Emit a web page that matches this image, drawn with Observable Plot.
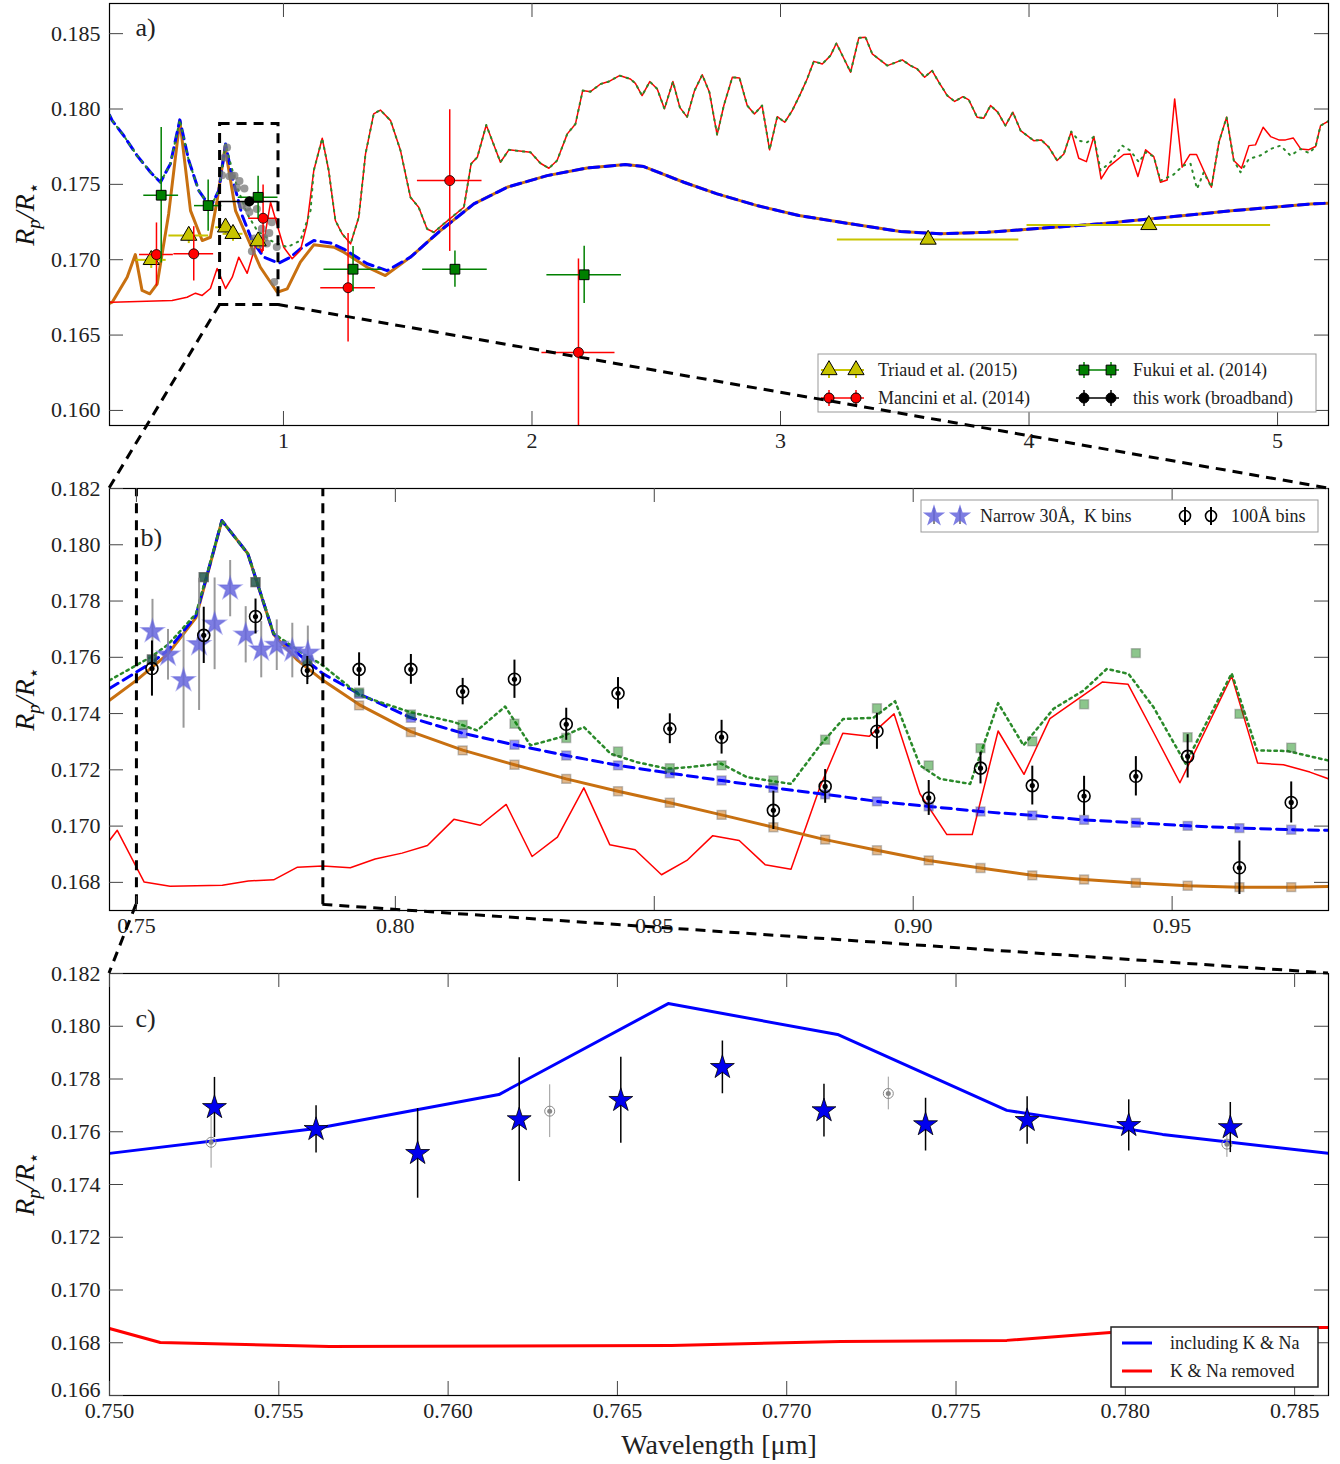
<!DOCTYPE html>
<html><head><meta charset="utf-8">
<script src="https://cdn.jsdelivr.net/npm/d3@7"></script>
<script src="https://cdn.jsdelivr.net/npm/@observablehq/plot@0.6"></script>
<style>
body{margin:0;background:#fff;}
#wrap{position:relative;width:1340px;height:1464px;}
#wrap svg{display:block;}
</style></head><body><div id="wrap"></div>
<script>
// ---------------- Panel a: models (wavelength µm, Rp/R*) ----------------
const redA = [[0.30,0.1672],[0.311,0.16718],[0.552,0.16729],[0.612,0.16751],[0.646,0.16778],[0.673,0.16763],[0.706,0.16809],[0.733,0.16942],[0.767,0.16809],[0.794,0.16884],[0.82,0.17017],[0.854,0.1691],[0.894,0.17127],[0.914,0.1705],[0.948,0.17381],[1.001,0.17083],[1.035,0.17006],[1.068,0.17061],[1.095,0.17238],[1.122,0.17592],[1.156,0.17806],[1.182,0.17592],[1.209,0.1726],[1.236,0.17172],[1.27,0.17105],[1.303,0.17282],[1.33,0.177],[1.363,0.17967],[1.39,0.17993],[1.431,0.17923],[1.471,0.17724],[1.511,0.17414],[1.544,0.17348],[1.578,0.17204],[1.605,0.17182],[1.645,0.17238],[1.726,0.17348],[1.755,0.17636],[1.78,0.1768],[1.816,0.17894],[1.873,0.17647],[1.907,0.17729],[1.994,0.17713],[2.034,0.1764],[2.068,0.17607],[2.101,0.17658],[2.142,0.17835],[2.175,0.17901],[2.204,0.18122],[2.235,0.18115],[2.276,0.18166],[2.309,0.18182],[2.352,0.18222],[2.396,0.18199],[2.416,0.1817],[2.443,0.18089],[2.474,0.18182],[2.504,0.18133],[2.533,0.18001],[2.567,0.18182],[2.595,0.18011],[2.624,0.17946],[2.654,0.18122],[2.685,0.18227],[2.714,0.18111],[2.745,0.17829],[2.772,0.18023],[2.806,0.1821],[2.835,0.18206],[2.866,0.18023],[2.895,0.17967],[2.926,0.18023],[2.956,0.17729],[2.987,0.17949],[3.017,0.17912],[3.047,0.17989],[3.08,0.181],[3.107,0.18199],[3.134,0.18316],[3.168,0.18299],[3.201,0.18354],[3.225,0.18436],[3.282,0.18244],[3.315,0.18472],[3.342,0.18476],[3.369,0.18366],[3.43,0.18288],[3.49,0.18326],[3.523,0.18288],[3.55,0.18266],[3.58,0.18211],[3.61,0.18255],[3.637,0.18178],[3.671,0.18089],[3.701,0.1805],[3.734,0.18082],[3.758,0.1806],[3.791,0.17946],[3.818,0.17939],[3.845,0.18023],[3.874,0.17979],[3.905,0.1789],[3.935,0.17979],[3.966,0.17857],[4.019,0.1779],[4.049,0.17795],[4.08,0.17746],[4.113,0.17658],[4.14,0.17702],[4.17,0.1785],[4.2,0.17673],[4.231,0.17651],[4.261,0.17817],[4.29,0.17536],[4.321,0.17618],[4.381,0.17698],[4.408,0.17702],[4.438,0.17552],[4.469,0.17729],[4.502,0.17684],[4.529,0.17514],[4.556,0.17529],[4.586,0.18067],[4.616,0.17614],[4.647,0.17698],[4.674,0.17698],[4.703,0.17592],[4.734,0.17481],[4.764,0.17779],[4.795,0.17946],[4.824,0.17658],[4.855,0.17607],[4.885,0.17757],[4.911,0.17762],[4.942,0.17879],[4.972,0.17817],[5.005,0.17795],[5.032,0.17795],[5.063,0.17808],[5.093,0.17735],[5.124,0.17729],[5.153,0.17751],[5.173,0.1789],[5.205,0.1792]];
const orangeA = [[0.30,0.1671],[0.311,0.16718],[0.371,0.16884],[0.404,0.17034],[0.431,0.16796],[0.462,0.16774],[0.492,0.1684],[0.538,0.17304],[0.583,0.17923],[0.626,0.17326],[0.673,0.17127],[0.706,0.17149],[0.733,0.17393],[0.765,0.17746],[0.807,0.17326],[0.854,0.17149],[0.907,0.1695],[0.975,0.16784],[1.015,0.16807],[1.068,0.16984],[1.122,0.17099],[1.203,0.17083],[1.243,0.1705],[1.337,0.1695],[1.41,0.16895],[1.511,0.17017],[1.632,0.17194],[1.766,0.1737],[1.9,0.17481],[2.061,0.17558],[2.222,0.17609],[2.376,0.17631],[2.45,0.17618],[2.611,0.17514],[2.745,0.17437],[2.906,0.17359],[3.074,0.17293],[3.282,0.17238],[3.483,0.17187],[3.644,0.17172],[3.832,0.17182],[4.019,0.17205],[4.288,0.17238],[4.556,0.17282],[4.824,0.17326],[5.133,0.1737],[5.205,0.17375]];
const blueAShort = [[0.30,0.1796],[0.311,0.17923],[0.357,0.17824],[0.411,0.17691],[0.465,0.1758],[0.505,0.17514],[0.545,0.17636],[0.583,0.17928],[0.619,0.17658],[0.659,0.17459],[0.706,0.17348],[0.74,0.17459],[0.767,0.17768],[0.794,0.17547],[0.834,0.17293],[0.874,0.17127],[0.921,0.17017],[0.981,0.16977],[1.028,0.17017],[1.068,0.17072],[1.122,0.17127],[1.189,0.17111],[1.243,0.17071],[1.337,0.16973],[1.417,0.16928],[1.511,0.17017]];
const greenAMid = [[0.79,0.1762],[0.814,0.17481],[0.854,0.17304],[0.894,0.17194],[0.948,0.17127],[1.015,0.17083],[1.068,0.17127],[1.109,0.17326]];
const greenALong = [[4.2,0.1779],[4.234,0.17779],[4.261,0.17817],[4.288,0.17592],[4.328,0.17647],[4.375,0.17757],[4.408,0.17724],[4.442,0.17647],[4.469,0.17713],[4.502,0.17684],[4.529,0.17525],[4.582,0.17565],[4.62,0.17625],[4.65,0.17636],[4.676,0.1747],[4.703,0.1758],[4.734,0.17481],[4.764,0.17779],[4.795,0.17946],[4.824,0.17658],[4.851,0.1758],[4.885,0.17669],[4.93,0.17691],[4.972,0.17735],[5.012,0.17757],[5.052,0.17691],[5.093,0.17735],[5.127,0.17707],[5.153,0.17751],[5.173,0.1789],[5.205,0.1792]];

// ---------------- Panel a: observations ----------------
const triaudWl = [0.468,0.619,0.767,0.797,0.898,3.594,4.482];
const triaudRp = [0.16999,0.1716,0.17215,0.17172,0.17123,0.17134,0.17231];
const triaudXe = [0.06,0.08,0.04,0.04,0.03,0.365,0.49];
const triaudYe = [0.00057,0.00053,0.0005,0.0005,0.0005,0.0002,0.0002];
const manciniWl = [0.489,0.639,0.918,1.26,1.669,2.187];
const manciniRp = [0.17034,0.17039,0.17275,0.16814,0.17525,0.16385];
const manciniXe = [0.068,0.08,0.058,0.11,0.13,0.147];
const manciniYe = [0.0021,0.0018,0.0022,0.0036,0.0047,0.0062];
const fukuiWl = [0.508,0.697,0.898,1.28,1.69,2.21];
const fukuiRp = [0.17428,0.17359,0.17414,0.16937,0.16937,0.169];
const fukuiXe = [0.07,0.055,0.08,0.117,0.13,0.15];
const fukuiYe = [0.0045,0.0017,0.0014,0.0015,0.0012,0.0019];
const broadWl = [0.8625];
const broadRp = [0.17386];
const broadXe = [0.1175];
const broadYe = [0.0003];

// ---------------- Panels b & c: 100 Å bins, 30 Å K bins, binned models ----------------
const binWl = [0.753,0.763,0.773,0.783,0.793,0.803,0.813,0.823,0.833,0.843,0.853,0.863,0.873,0.883,0.893,0.903,0.913,0.923,0.933,0.943,0.953,0.963,0.973];
const binRp = [0.1756,0.17678,0.17745,0.17553,0.17557,0.17557,0.17478,0.17522,0.17362,0.17472,0.17346,0.17316,0.17056,0.17141,0.17337,0.171,0.17206,0.17144,0.17107,0.17177,0.17248,0.16852,0.17084];
const binErr = [0.00098,0.001,0.00062,0.0005,0.00059,0.00053,0.00047,0.00068,0.00057,0.00056,0.00053,0.0006,0.00068,0.0006,0.00064,0.00062,0.00056,0.00069,0.0007,0.0007,0.00077,0.00095,0.00073];
const starWl = [0.7531,0.7561,0.7591,0.7621,0.7651,0.7681,0.7711,0.7741,0.7771,0.7801,0.7831];
const starRp = [0.17692,0.17609,0.17518,0.17646,0.17719,0.17844,0.1768,0.17627,0.17643,0.17624,0.17616];
const starErr = [0.00114,0.0009,0.0017,0.00235,0.00163,0.001,0.001,0.001,0.0009,0.00097,0.00095];
const binGreen = [0.17592,0.17885,0.17867,0.17589,0.17475,0.17397,0.1736,0.17364,0.17313,0.17265,0.17206,0.17216,0.17162,0.17307,0.17419,0.17216,0.17277,0.17301,0.17433,0.17615,0.17316,0.17399,0.17279];
const binBlue = [0.17592,0.17885,0.17867,0.17589,0.1747,0.17385,0.1733,0.17289,0.17251,0.17216,0.17188,0.17162,0.17136,0.17113,0.17088,0.1707,0.17052,0.17038,0.17022,0.17012,0.17001,0.16993,0.16987];
const binOrange = [0.17592,0.17885,0.17867,0.17589,0.17429,0.17334,0.17269,0.17218,0.17168,0.17124,0.17083,0.1704,0.16996,0.16952,0.16914,0.16878,0.16851,0.16825,0.1681,0.16798,0.16788,0.16783,0.16783];

// ---------------- Panels b & c: models ----------------
const redB = [[0.7448,0.16949],[0.7463,0.16985],[0.7515,0.16801],[0.7565,0.16786],[0.7666,0.1679],[0.7716,0.16805],[0.7765,0.16809],[0.7811,0.16854],[0.786,0.16858],[0.7913,0.16852],[0.7961,0.16883],[0.8013,0.16904],[0.8062,0.16931],[0.8113,0.17024],[0.8164,0.17003],[0.8214,0.17077],[0.8264,0.16892],[0.8313,0.16961],[0.8364,0.17136],[0.8414,0.16934],[0.8463,0.16916],[0.8514,0.16827],[0.8563,0.16878],[0.8613,0.16966],[0.8664,0.16949],[0.8714,0.16863],[0.8764,0.16847],[0.882,0.17139],[0.8864,0.1733],[0.8915,0.17319],[0.8963,0.17399],[0.9013,0.17115],[0.9065,0.1697],[0.9114,0.1697],[0.9164,0.17338],[0.9214,0.17184],[0.9264,0.17382],[0.9365,0.17512],[0.9415,0.17504],[0.9465,0.1733],[0.9515,0.17154],[0.9615,0.17533],[0.9665,0.17224],[0.9715,0.17218],[0.9766,0.17192],[0.9802,0.17168]];
const greenB = [[0.7448,0.17518],[0.7527,0.176],[0.7561,0.17645],[0.7615,0.17755],[0.7665,0.18086],[0.7715,0.17969],[0.7765,0.17685],[0.7828,0.17605],[0.7855,0.17578],[0.7932,0.17464],[0.8029,0.17405],[0.8113,0.1737],[0.8158,0.1734],[0.8212,0.17425],[0.8261,0.17287],[0.8319,0.17316],[0.8364,0.17352],[0.8416,0.17257],[0.8467,0.17227],[0.8525,0.17204],[0.857,0.1721],[0.8629,0.17222],[0.8679,0.17174],[0.8764,0.1715],[0.882,0.17287],[0.8865,0.17381],[0.8923,0.17385],[0.8965,0.17444],[0.9013,0.17216],[0.9052,0.17168],[0.911,0.1715],[0.9164,0.17437],[0.9213,0.17287],[0.9271,0.17417],[0.9329,0.17482],[0.9374,0.17559],[0.9416,0.17541],[0.9464,0.17423],[0.9526,0.17222],[0.9615,0.17543],[0.9664,0.17269],[0.9722,0.17267],[0.9802,0.17233]];
const blueB = [[0.7448,0.17489],[0.7527,0.17578],[0.7561,0.17625],[0.7615,0.17748],[0.7665,0.18086],[0.7715,0.17969],[0.7765,0.17683],[0.7828,0.17589],[0.786,0.17542],[0.793,0.1747],[0.803,0.17385],[0.813,0.1733],[0.823,0.17289],[0.833,0.17251],[0.843,0.17216],[0.853,0.17188],[0.863,0.17162],[0.873,0.17136],[0.883,0.17113],[0.893,0.17088],[0.903,0.1707],[0.913,0.17052],[0.923,0.17038],[0.933,0.17022],[0.943,0.17012],[0.953,0.17001],[0.963,0.16993],[0.973,0.16987],[0.9802,0.16985]];
const orangeB = [[0.7448,0.17447],[0.750,0.17518],[0.7561,0.17612],[0.7615,0.17741],[0.7665,0.18086],[0.7715,0.17969],[0.7765,0.17681],[0.7811,0.1759],[0.786,0.17518],[0.793,0.17432],[0.803,0.17336],[0.813,0.1727],[0.823,0.17218],[0.833,0.17168],[0.843,0.17124],[0.853,0.17083],[0.863,0.1704],[0.873,0.16996],[0.883,0.16952],[0.893,0.16914],[0.903,0.16878],[0.913,0.16851],[0.923,0.16825],[0.933,0.1681],[0.943,0.16798],[0.953,0.16788],[0.963,0.16783],[0.973,0.16783],[0.9802,0.16785]];

// ---------------- ticks & zoom windows ----------------
const xTicksA = [1,2,3,4,5];
const yTicksA = [0.160,0.165,0.170,0.175,0.180,0.185];
const xTicksB = [0.75,0.80,0.85,0.90,0.95];
const yTicksB = [0.168,0.170,0.172,0.174,0.176,0.178,0.180,0.182];
const xTicksC = [0.750,0.755,0.760,0.765,0.770,0.775,0.780,0.785];
const yTicksC = [0.166,0.168,0.170,0.172,0.174,0.176,0.178,0.180,0.182];
const zoomA = {x1: 0.745, x2: 0.98, y1: 0.167, y2: 0.179};
const zoomB = {x1: 0.750, x2: 0.786, y1: 0.1672, y2: 0.182};

// ---------------- helpers ----------------
const FONT = '"Liberation Serif", "DejaVu Serif", serif';
const ORANGE = "#c87010", TRI = "#c8c400";
const zip = (wl, rp, xe, ye) => wl.map((w, i) => ({wl: w, rp: rp[i], xe: xe ? xe[i] : 0, ye: ye ? ye[i] : 0}));
const FH = 422, FW = 1219;
function frameTicks(xt, yt) {
  const s = "#444", L = 14;
  return [
    Plot.tickX(xt, {x: d => d, stroke: s, insetTop: FH - L}),
    Plot.tickX(xt, {x: d => d, stroke: s, insetBottom: FH - L}),
    Plot.tickY(yt, {y: d => d, stroke: s, insetRight: FW - L}),
    Plot.tickY(yt, {y: d => d, stroke: s, insetLeft: FW - L})
  ];
}
const line = (a, o) => Plot.line(a, {x: d => d[0], y: d => d[1], clip: true, ...o});
const errX = (d, c, w) => Plot.ruleY(d, {y: "rp", x1: e => e.wl - e.xe, x2: e => e.wl + e.xe, stroke: c, strokeWidth: w, clip: true});
const errY = (d, c, w, o = {}) => Plot.ruleX(d, {x: "wl", y1: e => e.rp - e.ye, y2: e => e.rp + e.ye, stroke: c, strokeWidth: w, clip: true, ...o});
const axes = (xt, yt, fx, fy) => [
  Plot.axisX({ticks: xt, tickSize: 0, tickPadding: 7, tickFormat: fx, label: null, fontSize: 22, fill: "#222"}),
  Plot.axisY({ticks: yt, tickSize: 0, tickPadding: 9, tickFormat: fy, label: null, fontSize: 22, fill: "#222"})
];
const style = {fontFamily: FONT, fontSize: "22px", background: "white", color: "#222"};

// derived tables
const blueA = [...blueAShort, ...orangeA.filter(d => d[0] >= 1.6)];
const greenA = [...blueAShort.filter(d => d[0] <= 0.767), ...greenAMid, ...redA.filter(d => d[0] >= 1.12 && d[0] <= 4.17), ...greenALong];
const triaud = zip(triaudWl, triaudRp, triaudXe, triaudYe);
const mancini = zip(manciniWl, manciniRp, manciniXe, manciniYe);
const fukui = zip(fukuiWl, fukuiRp, fukuiXe, fukuiYe);
const broad = zip(broadWl, broadRp, broadXe, broadYe);
const bins = zip(binWl, binRp, null, binErr);
const stars = zip(starWl, starRp, null, starErr);
const mGreen = zip(binWl, binGreen), mBlue = zip(binWl, binBlue), mOrange = zip(binWl, binOrange);

// ---------------- Panel a ----------------
const plotA = Plot.plot({
  width: 1340, height: 465, marginTop: 3, marginBottom: 40, marginLeft: 109, marginRight: 12,
  x: {domain: [0.3, 5.205]}, y: {domain: [0.159, 0.187]}, style,
  marks: [
    line(orangeA, {stroke: ORANGE, strokeWidth: 3}),
    line(blueA, {stroke: "blue", strokeWidth: 3, strokeDasharray: "10,6"}),
    line(redA, {stroke: "red", strokeWidth: 1.5}),
    line(greenA, {stroke: "#2a8a2a", strokeWidth: 2, strokeDasharray: "1.5,5.5"}),
    Plot.dot(bins, {x: "wl", y: "rp", r: 4, fill: "#777", fillOpacity: 0.75}),
    errX(triaud, TRI, 2), errY(triaud, TRI, 2),
    Plot.dot(triaud, {x: "wl", y: "rp", symbol: "triangle", r: 6, fill: TRI, stroke: "black", strokeWidth: 1}),
    errX(mancini, "red", 1.5), errY(mancini, "red", 1.5),
    Plot.dot(mancini, {x: "wl", y: "rp", r: 5, fill: "red", stroke: "black", strokeWidth: 0.8}),
    errX(fukui, "green", 1.5), errY(fukui, "green", 1.5),
    Plot.dot(fukui, {x: "wl", y: "rp", symbol: "square", r: 5.5, fill: "green", stroke: "black", strokeWidth: 1}),
    errX(broad, "black", 1.5), errY(broad, "black", 1.5),
    Plot.dot(broad, {x: "wl", y: "rp", r: 5, fill: "black"}),
    Plot.rect([zoomA], {x1: "x1", x2: "x2", y1: "y1", y2: "y2", fill: "none", stroke: "black", strokeWidth: 3, strokeDasharray: "10,7"}),
    Plot.frame({stroke: "black", strokeWidth: 1.2}),
    ...frameTicks(xTicksA, yTicksA),
    ...axes(xTicksA, yTicksA, d3.format("d"), d3.format(".3f")),
    Plot.text(["a)"], {frameAnchor: "top-left", dx: 26, dy: 24, fontSize: 26, textAnchor: "start", lineAnchor: "middle", fill: "#222"})
  ]
});

// ---------------- Panel b ----------------
const plotB = Plot.plot({
  width: 1340, height: 485, marginTop: 23, marginBottom: 40, marginLeft: 109, marginRight: 12,
  x: {domain: [0.7448, 0.9802]}, y: {domain: [0.167, 0.182]}, style,
  marks: [
    line(redB, {stroke: "red", strokeWidth: 1.5}),
    line(orangeB, {stroke: ORANGE, strokeWidth: 3}),
    line(blueB, {stroke: "blue", strokeWidth: 3, strokeDasharray: "10,6"}),
    line(greenB, {stroke: "#2a8a2a", strokeWidth: 2.5, strokeDasharray: "2.5,4"}),
    Plot.dot(mOrange, {x: "wl", y: "rp", symbol: "square", r: 5, fill: ORANGE, fillOpacity: 0.5, stroke: "#555", strokeOpacity: 0.35}),
    Plot.dot(mBlue, {x: "wl", y: "rp", symbol: "square", r: 5, fill: "blue", fillOpacity: 0.45, stroke: "#555", strokeOpacity: 0.35}),
    Plot.dot(mGreen, {x: "wl", y: "rp", symbol: "square", r: 5, fill: "green", fillOpacity: 0.45, stroke: "#555", strokeOpacity: 0.35}),
    errY(stars, "#888", 2, {strokeOpacity: 0.85}),
    Plot.dot(stars, {x: "wl", y: "rp", symbol: "star", r: 7, fill: "#6666dd", fillOpacity: 0.85, stroke: "#6666dd", strokeOpacity: 0.5}),
    errY(bins, "black", 2),
    Plot.dot(bins, {x: "wl", y: "rp", r: 6, fill: "none", stroke: "black", strokeWidth: 1.6}),
    Plot.dot(bins, {x: "wl", y: "rp", r: 2.6, fill: "black"}),
    Plot.ruleX([zoomB.x1, zoomB.x2], {x: d => d, y1: zoomB.y1, y2: zoomB.y2, stroke: "black", strokeWidth: 3, strokeDasharray: "10,7"}),
    Plot.frame({stroke: "black", strokeWidth: 1.2}),
    ...frameTicks(xTicksB, yTicksB),
    ...axes(xTicksB, yTicksB, d3.format(".2f"), d3.format(".3f")),
    Plot.text(["b)"], {frameAnchor: "top-left", dx: 31, dy: 49, fontSize: 26, textAnchor: "start", lineAnchor: "middle", fill: "#222"})
  ]
});

// ---------------- Panel c ----------------
const plotC = Plot.plot({
  width: 1340, height: 514, marginTop: 23, marginBottom: 69, marginLeft: 109, marginRight: 12,
  x: {domain: [0.750, 0.786]}, y: {domain: [0.166, 0.182]}, style,
  marks: [
    line(orangeB, {stroke: "blue", strokeWidth: 3}),
    line(redB, {stroke: "red", strokeWidth: 3}),
    errY(bins, "#999", 1),
    Plot.dot(bins, {x: "wl", y: "rp", r: 5, fill: "none", stroke: "#888", strokeWidth: 1}),
    Plot.dot(bins, {x: "wl", y: "rp", r: 2.5, fill: "#888"}),
    errY(stars, "black", 1.5),
    Plot.dot(stars, {x: "wl", y: "rp", symbol: "star", r: 7.5, fill: "#0000ee", stroke: "black", strokeWidth: 0.8}),
    Plot.frame({stroke: "black", strokeWidth: 1.2}),
    ...frameTicks(xTicksC, yTicksC),
    Plot.axisX({ticks: xTicksC, tickSize: 0, tickPadding: 7, tickFormat: d3.format(".3f"), label: null, fontSize: 22, fill: "#222"}),
    Plot.axisY({ticks: yTicksC.slice(1), tickSize: 0, tickPadding: 9, tickFormat: d3.format(".3f"), label: null, fontSize: 22, fill: "#222"}),
    Plot.axisY({ticks: yTicksC.slice(0, 1), tickSize: 0, tickPadding: 9, tickFormat: d3.format(".3f"), label: null, fontSize: 22, fill: "#222", dy: -6}),
    Plot.text(["c)"], {frameAnchor: "top-left", dx: 26, dy: 45, fontSize: 26, textAnchor: "start", lineAnchor: "middle", fill: "#222"}),
    Plot.text(["Wavelength [μm]"], {frameAnchor: "bottom", dy: 50, fontSize: 28, lineAnchor: "middle", fill: "#222"})
  ]
});

const wrap = document.getElementById("wrap");
wrap.append(plotA, plotB, plotC);

// ---------------- y labels ----------------
function addYLabel(svg) {
  const r = svg.scale("y").range;
  const mid = (r[0] + r[1]) / 2;
  const t = d3.select(svg).append("text")
    .attr("transform", `translate(34,${mid}) rotate(-90)`)
    .attr("text-anchor", "middle").attr("font-size", 28).attr("font-style", "italic")
    .attr("font-family", FONT).attr("fill", "#111");
  t.append("tspan").text("R");
  t.append("tspan").attr("dy", 6).attr("font-size", 19).text("p");
  t.append("tspan").attr("dy", -6).text("/R");
  t.append("tspan").attr("dy", 6).attr("font-size", 19).attr("font-style", "normal").text("⋆");
}
[plotA, plotB, plotC].forEach(addYLabel);

// ---------------- legends ----------------
const sym = (type, r) => d3.symbol(type, Math.PI * r * r)();
const legendG = (svg) => d3.select(svg).append("g").attr("font-family", FONT).attr("font-size", 18).attr("fill", "#222").attr("text-anchor", "start");
{
  const g = legendG(plotA);
  g.append("rect").attr("x", 818).attr("y", 354).attr("width", 498).attr("height", 58).attr("fill", "white").attr("stroke", "#999");
  const items = [
    {label: "Triaud et al. (2015)", x: 829, y: 370, c: TRI, type: d3.symbolTriangle, r: 6, w: 2},
    {label: "Mancini et al. (2014)", x: 829, y: 398, c: "red", type: d3.symbolCircle, r: 5, w: 1.5},
    {label: "Fukui et al. (2014)", x: 1084, y: 370, c: "green", type: d3.symbolSquare, r: 5.5, w: 1.5},
    {label: "this work (broadband)", x: 1084, y: 398, c: "black", type: d3.symbolCircle, r: 5, w: 1.5}
  ];
  for (const it of items) {
    g.append("line").attr("x1", it.x - 8).attr("x2", it.x + 35).attr("y1", it.y).attr("y2", it.y).attr("stroke", it.c).attr("stroke-width", it.w);
    for (const dx of [0, 27]) {
      g.append("line").attr("x1", it.x + dx).attr("x2", it.x + dx).attr("y1", it.y - 8).attr("y2", it.y + 8).attr("stroke", it.c).attr("stroke-width", it.w);
      g.append("path").attr("d", sym(it.type, it.r)).attr("transform", `translate(${it.x + dx},${it.y})`)
        .attr("fill", it.c).attr("stroke", "black").attr("stroke-width", 1);
    }
    g.append("text").attr("x", it.x + 49).attr("y", it.y).attr("dy", "0.32em").text(it.label);
  }
}
{
  const g = legendG(plotB);
  g.append("rect").attr("x", 921).attr("y", 35).attr("width", 397).attr("height", 32).attr("fill", "white").attr("stroke", "#999");
  const y = 51;
  for (const x of [934, 960]) {
    g.append("line").attr("x1", x).attr("x2", x).attr("y1", y - 8).attr("y2", y + 8).attr("stroke", "#888").attr("stroke-width", 2);
    g.append("path").attr("d", sym(d3.symbolStar, 7)).attr("transform", `translate(${x},${y})`).attr("fill", "#6666dd").attr("fill-opacity", 0.85);
  }
  g.append("text").attr("x", 980).attr("y", y).attr("dy", "0.32em").text("Narrow 30Å,  K bins");
  for (const x of [1185, 1211]) {
    g.append("line").attr("x1", x).attr("x2", x).attr("y1", y - 9).attr("y2", y + 9).attr("stroke", "black").attr("stroke-width", 2);
    g.append("circle").attr("cx", x).attr("cy", y).attr("r", 5.5).attr("fill", "none").attr("stroke", "black").attr("stroke-width", 1.6);
  }
  g.append("text").attr("x", 1231).attr("y", y).attr("dy", "0.32em").text("100Å bins");
}
{
  const g = legendG(plotC);
  g.append("rect").attr("x", 1111).attr("y", 377).attr("width", 207).attr("height", 60).attr("fill", "white").attr("stroke", "#222").attr("stroke-width", 1.5);
  [["including K & Na", "blue", 393], ["K & Na removed", "red", 421]].forEach(([t, c, y]) => {
    g.append("line").attr("x1", 1122).attr("x2", 1152).attr("y1", y).attr("y2", y).attr("stroke", c).attr("stroke-width", 3);
    g.append("text").attr("x", 1170).attr("y", y).attr("dy", "0.32em").text(t);
  });
}

// ---------------- zoom connectors (overlay, from plot scales) ----------------
const wr = wrap.getBoundingClientRect();
const off = (svg) => svg.getBoundingClientRect().top - wr.top;
const P = (svg, x, y) => [svg.scale("x").apply(x), svg.scale("y").apply(y) + off(svg)];
const corners = (svg) => {
  const xr = svg.scale("x").range, yr = svg.scale("y").range;
  return {left: Math.min(...xr), right: Math.max(...xr), top: Math.min(...yr) + off(svg)};
};
const cb = corners(plotB), cc = corners(plotC);
const segs = [
  [P(plotA, zoomA.x1, zoomA.y1), [cb.left, cb.top]],
  [P(plotA, zoomA.x2, zoomA.y1), [cb.right, cb.top]],
  [P(plotB, zoomB.x1, zoomB.y1), [cc.left, cc.top]],
  [P(plotB, zoomB.x2, zoomB.y1), [cc.right, cc.top]]
];
const ov = d3.select(wrap).append("svg").attr("width", 1340).attr("height", 1464)
  .style("position", "absolute").style("left", 0).style("top", 0).style("pointer-events", "none");
ov.selectAll("line").data(segs).join("line")
  .attr("x1", d => d[0][0]).attr("y1", d => d[0][1]).attr("x2", d => d[1][0]).attr("y2", d => d[1][1])
  .attr("stroke", "black").attr("stroke-width", 3).attr("stroke-dasharray", "10,7");
</script></body></html>
